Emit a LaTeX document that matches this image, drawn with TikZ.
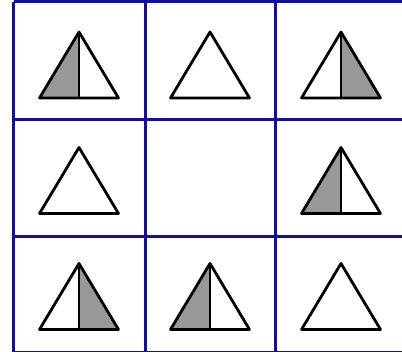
\documentclass[tikz,border=0pt]{standalone}
\usepackage{xcolor}
\definecolor{gridblue}{HTML}{10109A}
\definecolor{triink}{HTML}{000000}
\definecolor{trishade}{HTML}{989898}

\begin{document}
\begin{tikzpicture}[
  x=1pt,
  y=-1pt,
  line join=round
]
  \useasboundingbox (0,0) rectangle (402,352);
  \clip (0,0) rectangle (402,352);
  \def\triangleshape{(-39.5,33) -- (0,-33) -- (39.5,33) -- cycle}
  \def\lefthalf{(-39.5,33) -- (0,-33) -- (0,33) -- cycle}
  \def\righthalf{(0,-33) -- (39.5,33) -- (0,33) -- cycle}

  % Grid
  \foreach \gx in {13.5,145,275,405.5}
    \draw[gridblue, line width=3pt] (\gx,2) -- (\gx,352.5);
  \foreach \gy in {2,120,237,352.5}
    \draw[gridblue, line width=3pt] (13.5,\gy) -- (405.5,\gy);

  % Row 1
  \begin{scope}[shift={(79,65)}]
    \path[fill=trishade] \lefthalf;
    \draw[triink, line width=2.8pt] \triangleshape;
    \draw[triink, line width=2.8pt] (0,-33) -- (0,33);
  \end{scope}
  \begin{scope}[shift={(210,65)}]
    \draw[triink, line width=2.8pt] \triangleshape;
  \end{scope}
  \begin{scope}[shift={(341,65)}]
    \path[fill=trishade] \righthalf;
    \draw[triink, line width=2.8pt] \triangleshape;
    \draw[triink, line width=2.8pt] (0,-33) -- (0,33);
  \end{scope}

  % Row 2
  \begin{scope}[shift={(79,180.5)}]
    \draw[triink, line width=2.8pt] \triangleshape;
  \end{scope}
  \begin{scope}[shift={(341,180.5)}]
    \path[fill=trishade] \lefthalf;
    \draw[triink, line width=2.8pt] \triangleshape;
    \draw[triink, line width=2.8pt] (0,-33) -- (0,33);
  \end{scope}

  % Row 3
  \begin{scope}[shift={(79,296.5)}]
    \path[fill=trishade] \righthalf;
    \draw[triink, line width=2.8pt] \triangleshape;
    \draw[triink, line width=2.8pt] (0,-33) -- (0,33);
  \end{scope}
  \begin{scope}[shift={(210,296.5)}]
    \path[fill=trishade] \lefthalf;
    \draw[triink, line width=2.8pt] \triangleshape;
    \draw[triink, line width=2.8pt] (0,-33) -- (0,33);
  \end{scope}
  \begin{scope}[shift={(341,296.5)}]
    \draw[triink, line width=2.8pt] \triangleshape;
  \end{scope}
\end{tikzpicture}
\end{document}
